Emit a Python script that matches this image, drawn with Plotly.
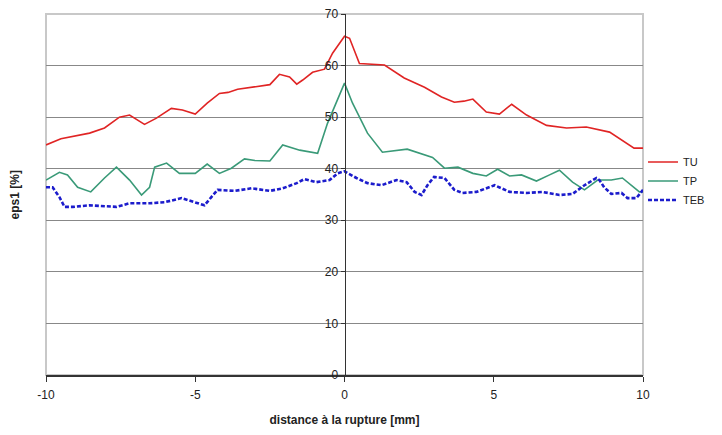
import plotly.graph_objects as go

# TU (red) curve
tu_x = [-10, -9.5, -8.54, -8.04, -7.54, -7.2, -6.7, -6.3, -5.8, -5.43, -5.0, -4.6, -4.19,
        -3.9, -3.58, -3.35, -3.18, -2.5, -2.18, -1.84, -1.6, -1.4, -1.07, -0.67, -0.4, 0,
        0.17, 0.5, 1.34, 2.0, 2.68, 3.25, 3.68, 4.0, 4.3, 4.75, 5.19, 5.6, 6.1, 6.77,
        7.44, 8.1, 8.88, 9.7, 10]
tu_y = [44.6, 45.8, 46.9, 47.9, 50.0, 50.4, 48.6, 49.8, 51.7, 51.4, 50.6, 52.7, 54.6,
        54.8, 55.4, 55.6, 55.8, 56.3, 58.3, 57.8, 56.4, 57.2, 58.7, 59.3, 62.4, 65.7,
        65.3, 60.4, 60.1, 57.6, 55.8, 53.9, 52.9, 53.1, 53.5, 51.0, 50.6, 52.5, 50.4, 48.4,
        47.9, 48.1, 47.1, 44.0, 44.0]

# TP (green) curve
tp_x = [-10, -9.55, -9.28, -8.94, -8.5, -8.04, -7.64, -7.2, -6.8, -6.53, -6.36, -5.96,
        -5.53, -5.0, -4.6, -4.19, -3.79, -3.35, -3.0, -2.5, -2.07, -1.5, -0.9, -0.57, 0,
        0.27, 0.77, 1.27, 2.1, 2.95, 3.35, 3.8, 4.3, 4.75, 5.13, 5.53, 5.93, 6.43, 6.87,
        7.2, 7.64, 8.04, 8.48, 8.94, 9.31, 9.88, 10]
tp_y = [37.8, 39.3, 38.8, 36.4, 35.5, 38.2, 40.3, 37.8, 34.9, 36.4, 40.3, 41.1,
        39.1, 39.1, 40.9, 39.1, 40.1, 41.9, 41.6, 41.5, 44.6, 43.6, 43.0, 48.8, 56.6,
        52.7, 46.9, 43.2, 43.8, 42.2, 40.1, 40.3, 39.1, 38.6, 39.9, 38.6, 38.8, 37.6, 38.8,
        39.7, 37.4, 35.9, 37.8, 37.8, 38.2, 35.5, 35.5]

# TEB (blue dashed) curve
teb_x = [-10, -9.78, -9.55, -9.38, -9.1, -8.54, -7.64, -7.2, -6.53, -6.03, -5.46, -5.0,
         -4.69, -4.46, -4.25, -3.68, -3.12, -2.5, -2.07, -1.6, -1.34, -0.94, -0.5, -0.23,
         0, 0.4, 0.77, 1.24, 1.74, 2.08, 2.35, 2.58, 2.78, 3.0, 3.35, 3.68, 3.95, 4.42,
         5.03, 5.53, 6.1, 6.63, 7.2, 7.64, 8.04, 8.44, 8.54, 8.7, 8.94, 9.28, 9.48, 9.78, 10]
teb_y = [36.4, 36.4, 34.5, 32.6, 32.6, 32.9, 32.6, 33.3, 33.3, 33.5, 34.3, 33.5,
         32.9, 34.5, 35.9, 35.7, 36.2, 35.7, 36.2, 37.2, 38.0, 37.4, 37.8, 39.1,
         39.5, 38.2, 37.2, 36.8, 37.8, 37.4, 35.5, 34.9, 36.8, 38.4, 38.2, 35.9, 35.3, 35.5,
         36.8, 35.5, 35.3, 35.5, 34.9, 35.1, 36.8, 38.2, 37.8, 36.4, 35.1, 35.3, 34.3, 34.3, 35.9]

x_ticks = [-10, -5, 0, 5, 10]
x_ticklabels = ["-10", "-5", "0", "5", "10"]

fig = go.Figure()
fig.add_trace(go.Scatter(x=tu_x, y=tu_y, name="TU", mode="lines",
                         line=dict(color="#e02424", width=1.6)))
fig.add_trace(go.Scatter(x=tp_x, y=tp_y, name="TP", mode="lines",
                         line=dict(color="#3a9a78", width=1.6)))
fig.add_trace(go.Scatter(x=teb_x, y=teb_y, name="TEB", mode="lines",
                         line=dict(color="#1c1ccc", width=2.6, dash="4px,2px")))

# light plot-area border
fig.add_shape(type="rect", xref="x domain", yref="y domain", x0=0, x1=1, y0=0, y1=1,
              line=dict(color="#c8c8c8", width=2), layer="below")

fig.update_xaxes(range=[-10, 10], tickvals=x_ticks, ticktext=x_ticklabels, showgrid=False,
                 zeroline=False, showline=True, linecolor="#333", linewidth=1.5,
                 ticks="outside", ticklen=5, tickcolor="#333", automargin=False,
                 ticklabelstandoff=3, ticklabeloverflow="allow",
                 tickfont=dict(size=12, color="#222"),
                 title=dict(text="<b>distance à la rupture [mm]</b>", standoff=14,
                            font=dict(size=12, color="#222")))
fig.update_yaxes(range=[0, 70], dtick=10, showgrid=True, gridcolor="#888", gridwidth=1.3,
                 zeroline=False, anchor="free", position=0.5, showline=True,
                 linecolor="#333", linewidth=1, ticks="outside", ticklen=4, automargin=False,
                 ticklabeloverflow="allow",
                 tickcolor="#333", tickfont=dict(size=12, color="#222"))

fig.add_annotation(text="<b>eps1 [%]</b>", xref="paper", yref="paper", x=-0.052, y=0.5,
                   xanchor="center", yanchor="middle",
                   textangle=-90, showarrow=False, font=dict(size=12, color="#222"))

# page body adds an 8px offset, so margins are shifted to compensate
fig.update_layout(width=722, height=435, paper_bgcolor="white", plot_bgcolor="white",
                  margin=dict(l=38, r=87, t=6, b=68, autoexpand=False),
                  font=dict(family="Liberation Sans, Arial, sans-serif"),
                  legend=dict(x=1.0, y=0.63, xanchor="left", yanchor="top",
                              font=dict(size=11, color="#222"), itemwidth=30,
                              bgcolor="rgba(0,0,0,0)"))

fig.write_html("out.html")
